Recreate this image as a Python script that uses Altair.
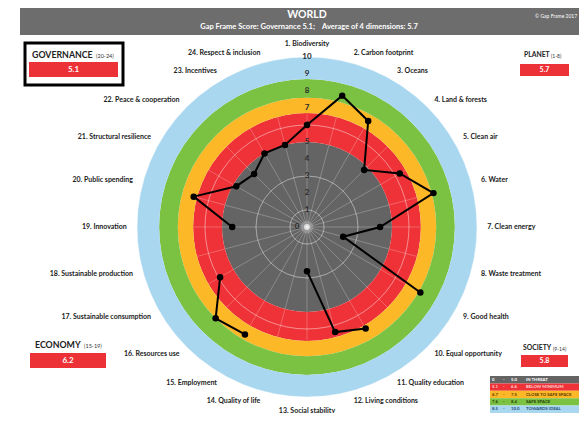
import math
import altair as alt
import pandas as pd

# ---------------- data ----------------
spoke_labels = [
    "1. Biodiversity", "2. Carbon footprint", "3. Oceans", "4. Land & forests",
    "5. Clean air", "6. Water", "7. Clean energy", "8. Waste treatment",
    "9. Good health", "10. Equal opportunity", "11. Quality education",
    "12. Living conditions", "13. Social stability", "14. Quality of life",
    "15. Employment", "16. Resources use", "17. Sustainable consumption",
    "18. Sustainable production", "19. Innovation", "20. Public spending",
    "21. Structural resilience", "22. Peace & cooperation", "23. Incentives",
    "24. Respect & inclusion",
]
scores = [6.0, 8.0, 7.2, 4.75, 6.3, 7.7, 4.3, 2.2, 7.7, None, 6.9, 6.4,
          2.6, None, 7.3, 7.6, 5.9, None, 4.4, 6.9, 4.8, 4.4, 5.0, 5.0]

band_names = ["IN THREAT", "BELOW MINIMUM", "CLOSE TO SAFE SPACE", "SAFE SPACE", "TOWARDS IDEAL"]
band_from = [0.0, 5.0, 6.7, 7.6, 8.7]
band_to = [5.0, 6.7, 7.6, 8.7, 10.0]
legend_lo = ["0", "5.1", "6.7", "7.6", "8.5"]
legend_hi = ["5.0", "6.6", "7.5", "8.4", "10.0"]

ring_ticks = list(range(0, 11))
grid_rings = [1, 2, 3, 4, 5, 6]

dim_names = ["GOVERNANCE", "PLANET", "ECONOMY", "SOCIETY"]
dim_ranges = ["(20-24)", "(1-8)", "(15-19)", "(9-14)"]
dim_scores = ["5.1", "5.7", "6.2", "5.8"]

title_text = "WORLD"
subtitle_text = "Gap Frame Score: Governance 5.1;\u00a0\u00a0\u00a0\u00a0Average of 4 dimensions: 5.7"
copyright_text = "\u00a9 Gap Frame 2017"

# ---------------- styles ----------------
band_colors = ["#646464", "#ee3237", "#fcb827", "#7cc242", "#a8d7ef"]
legend_text_colors = ["#ffffff", "#ffd6d6", "#5a3a00", "#1f3d0a", "#1f4e79"]
RED = "#ec3237"
FONT = "Lato"

W, H = 571, 405
CX, CY = 299, 219          # centre of the radar in chart pixels
PPU = 17.0                 # pixels per score unit

X = alt.Scale(domain=[-CX / PPU, (W - CX) / PPU], nice=False, zero=False)
Y = alt.Scale(domain=[-(H - CY) / PPU, CY / PPU], nice=False, zero=False)
R = alt.Scale(type="linear", domain=[0, 10], range=[0, 10 * PPU], zero=True, nice=False)
FULL = 2 * math.pi

# ---------------- tables ----------------
band_df = pd.DataFrame({"band": band_names, "lo": band_from, "hi": band_to, "cx": 0.0, "cy": 0.0})
grid_df = pd.DataFrame({"r": grid_rings, "cx": 0.0, "cy": 0.0})
spoke_df = pd.DataFrame({"k": list(range(len(spoke_labels))), "label": spoke_labels})
tick_df = pd.DataFrame({"t": ring_ticks, "cx": 0.0})

n = len(scores)
missing = [i for i, v in enumerate(scores) if v is None]
start = (missing[-1] + 1) % n if missing else 0
rows = []
seg = 0
for j in range(n):
    i = (start + j) % n
    v = scores[i]
    if v is None:
        seg += 1
        continue
    rows.append({"k": i, "v": v, "seg": seg, "ord": j})
score_df = pd.DataFrame(rows)

# ---------------- radar layers ----------------
bands = alt.Chart(band_df).mark_arc(theta=0, theta2=FULL).encode(
    x=alt.X("cx:Q", scale=X, axis=None),
    y=alt.Y("cy:Q", scale=Y, axis=None),
    radius=alt.Radius("lo:Q", scale=R),
    radius2=alt.Radius2("hi:Q"),
    color=alt.Color("band:N", scale=alt.Scale(domain=band_names, range=band_colors), legend=None),
)

grid = alt.Chart(grid_df).mark_arc(
    theta=0, theta2=FULL, filled=False, color="white", strokeWidth=0.7, strokeOpacity=0.35
).encode(
    x=alt.X("cx:Q", scale=X, axis=None),
    y=alt.Y("cy:Q", scale=Y, axis=None),
    radius=alt.Radius("r:Q", scale=R),
)

spokes = alt.Chart(spoke_df).transform_calculate(
    x0="0", y0="0",
    x1="6.7 * sin(datum.k * PI / 12)",
    y1="6.7 * cos(datum.k * PI / 12)",
).mark_rule(color="white", strokeWidth=0.7, strokeOpacity=0.35).encode(
    x=alt.X("x0:Q", scale=X, axis=None),
    y=alt.Y("y0:Q", scale=Y, axis=None),
    x2="x1:Q",
    y2="y1:Q",
)

glow1 = alt.Chart(pd.DataFrame({"cx": [0.0], "cy": [0.0]})).mark_circle(
    color="white", size=160, opacity=0.18
).encode(x=alt.X("cx:Q", scale=X, axis=None), y=alt.Y("cy:Q", scale=Y, axis=None))
glow2 = alt.Chart(pd.DataFrame({"cx": [0.0], "cy": [0.0]})).mark_circle(
    color="white", size=35, opacity=0.6
).encode(x=alt.X("cx:Q", scale=X, axis=None), y=alt.Y("cy:Q", scale=Y, axis=None))

ticks_main = alt.Chart(tick_df).transform_filter("datum.t > 0").mark_text(
    font=FONT, fontSize=8, fontWeight="bold", color="#2b2b2b"
).encode(
    x=alt.X("cx:Q", scale=X, axis=None),
    y=alt.Y("t:Q", scale=Y, axis=None),
    text="t:Q",
)
ticks_zero = alt.Chart(tick_df).transform_filter("datum.t == 0").mark_text(
    font=FONT, fontSize=8, fontWeight="bold", color="#2b2b2b", dx=-10
).encode(
    x=alt.X("cx:Q", scale=X, axis=None),
    y=alt.Y("t:Q", scale=Y, axis=None),
    text="t:Q",
)

score_base = alt.Chart(score_df).transform_calculate(
    px="datum.v * sin(datum.k * PI / 12)",
    py="datum.v * cos(datum.k * PI / 12)",
)
score_line = score_base.mark_line(color="black", strokeWidth=2).encode(
    x=alt.X("px:Q", scale=X, axis=None),
    y=alt.Y("py:Q", scale=Y, axis=None),
    detail="seg:N",
    order="ord:Q",
)
score_pts = score_base.mark_circle(color="black", size=42, opacity=1).encode(
    x=alt.X("px:Q", scale=X, axis=None),
    y=alt.Y("py:Q", scale=Y, axis=None),
)

lab_base = alt.Chart(spoke_df).transform_calculate(
    lx="10.6 * sin(datum.k * PI / 12)",
    ly="10.6 * cos(datum.k * PI / 12)",
)
lab_style = dict(font=FONT, fontSize=7, fontWeight="bold", color="#222222")
lab_enc = dict(
    x=alt.X("lx:Q", scale=X, axis=None),
    y=alt.Y("ly:Q", scale=Y, axis=None),
    text="label:N",
)
lab_right = lab_base.transform_filter("datum.k >= 1 && datum.k <= 11").mark_text(
    align="left", baseline="middle", **lab_style).encode(**lab_enc)
lab_left = lab_base.transform_filter("datum.k >= 13").mark_text(
    align="right", baseline="middle", **lab_style).encode(**lab_enc)
lab_top = lab_base.transform_filter("datum.k == 0").mark_text(
    align="center", baseline="bottom", **lab_style).encode(**lab_enc)
lab_bottom = lab_base.transform_filter("datum.k == 12").mark_text(
    align="center", baseline="top", **lab_style).encode(**lab_enc)

# ---------------- decorations (pixel positioned) ----------------
one = pd.DataFrame({"a": [0]})


def rect(x1, y1, x2, y2, **kw):
    return alt.Chart(one).mark_rect(**kw).encode(
        x=alt.value(x1), x2=alt.value(x2), y=alt.value(y1), y2=alt.value(y2))


def txt(x, y, s, **kw):
    return alt.Chart(one).mark_text(text=s, font=FONT, baseline="middle", **kw).encode(
        x=alt.value(x), y=alt.value(y))


deco = []
# title bar
deco.append(rect(12, 0, W, 27, color="#6d6d6d"))
deco.append(txt(299, 7, title_text, fontSize=10.5, fontWeight="bold", color="white", align="center"))
deco.append(txt(301, 19, subtitle_text, fontSize=7.5, fontWeight="bold", color="white", align="center"))
deco.append(txt(527, 8, copyright_text, fontSize=5, color="white", align="left"))

# governance box (framed)
deco.append(rect(17, 35, 115, 77, fill="white", stroke="black", strokeWidth=3))
deco.append(txt(24, 47, dim_names[0], fontSize=8.8, fontWeight="bold", color="#222", align="left"))
deco.append(txt(88, 47.5, dim_ranges[0], fontSize=5.5, color="#333", align="left"))
deco.append(rect(21, 54, 110, 69, color=RED))
deco.append(txt(65.5, 61.5, dim_scores[0], fontSize=8, fontWeight="bold", color="white", align="center"))

# planet
deco.append(txt(516, 47, dim_names[1], fontSize=6.8, fontWeight="bold", color="#222", align="left"))
deco.append(txt(543, 47.5, dim_ranges[1], fontSize=5, color="#333", align="left"))
deco.append(rect(512, 56, 561, 68, color=RED))
deco.append(txt(536.5, 62, dim_scores[1], fontSize=7, fontWeight="bold", color="white", align="center"))

# economy
deco.append(txt(27, 337, dim_names[2], fontSize=8.8, fontWeight="bold", color="#222", align="left"))
deco.append(txt(76, 337.5, dim_ranges[2], fontSize=5.5, color="#333", align="left"))
deco.append(rect(22, 345, 98, 360, color=RED))
deco.append(txt(60, 352.5, dim_scores[2], fontSize=8, fontWeight="bold", color="white", align="center"))

# society
deco.append(txt(515, 340, dim_names[3], fontSize=6.8, fontWeight="bold", color="#222", align="left"))
deco.append(txt(545, 340.5, dim_ranges[3], fontSize=5, color="#333", align="left"))
deco.append(rect(513, 347, 560, 359, color=RED))
deco.append(txt(536.5, 353, dim_scores[3], fontSize=7, fontWeight="bold", color="white", align="center"))

# band legend table
row_h = 7.4
top = H - 5 * row_h
for i in range(5):
    y1 = top + i * row_h
    deco.append(rect(482, y1, W, y1 + row_h, color=band_colors[i]))
    yc = y1 + row_h / 2
    c = legend_text_colors[i]
    deco.append(txt(484, yc, legend_lo[i], fontSize=4.3, fontWeight="bold", color=c, align="left"))
    deco.append(txt(495, yc, "-", fontSize=4.3, fontWeight="bold", color=c, align="left"))
    deco.append(txt(503, yc, legend_hi[i], fontSize=4.3, fontWeight="bold", color=c, align="left"))
    deco.append(txt(518, yc, band_names[i], fontSize=4.3, fontWeight="bold", color=c, align="left"))

chart = alt.layer(
    bands, grid, spokes, glow1, glow2, ticks_main, ticks_zero,
    score_line, score_pts, lab_right, lab_left, lab_top, lab_bottom, *deco
).properties(
    width=W, height=H, padding=0, autosize=alt.AutoSizeParams(type="none"),
    background="white",
).configure_view(stroke=None)

chart.save("out.html", embed_options={"renderer": "svg", "actions": False})
